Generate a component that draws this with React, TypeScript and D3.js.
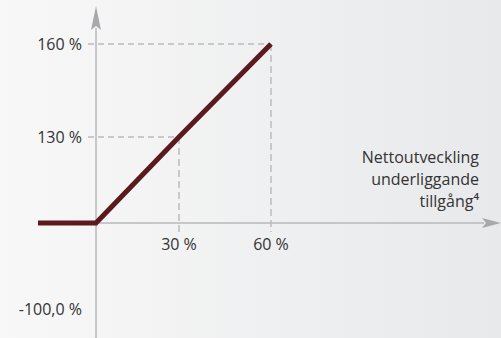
import React from "react";
import * as d3 from "d3";

const W = 501;
const H = 338;

// Payoff profile: underlying net development (%) -> payout (%)
const payoffX = [-20, 0, 30, 60];
const payoffY = [100, 100, 130, 160];

// Guide points (dashed)
const guideX = [30, 60];
const guideY = [130, 160];

// Tick labels
const xTickValues = [30, 60];
const xTickLabels = ["30 %", "60 %"];
const yTickValues = [-100, 130, 160];
const yTickLabels = ["-100,0 %", "130 %", "160 %"];

const axisTitle = ["Nettoutveckling", "underliggande", "tillgång⁴"];

export default function App() {
  // schematic (piecewise) scales
  const x = d3.scaleLinear().domain([-20, 0, 30, 60]).range([38, 96, 179, 271]);
  const y = d3.scaleLinear().domain([-100, 100, 130, 160]).range([309, 223, 137, 44]);

  const line = d3
    .line<number>()
    .x((_, i) => x(payoffX[i]))
    .y((d) => y(d));

  const axisX0 = x(0);
  const axisY0 = y(100);
  const font = "'Open Sans', sans-serif";
  const fs = 16;
  const textColor = "#333";
  const gridColor = "#c9c9cb";
  const axisColor = "#b8b8bb";
  const arrowColor = "#a8a9ad";

  return (
    <svg
      width={W}
      height={H}
      style={{ position: "absolute", left: 0, top: 0, display: "block" }}
    >
      <defs>
        <linearGradient id="bg" x1="0" x2="1" y1="0" y2="0">
          <stop offset="0" stopColor="#f8f8f8" />
          <stop offset="1" stopColor="#e8e9eb" />
        </linearGradient>
      </defs>
      <rect x={0} y={0} width={W} height={H} fill="url(#bg)" />

      {/* dashed guides */}
      {guideX.map((gx, i) => (
        <g key={i}>
          <line
            x1={axisX0 - 8}
            x2={x(gx)}
            y1={y(guideY[i])}
            y2={y(guideY[i])}
            stroke={gridColor}
            strokeWidth={2}
            strokeDasharray="6 4"
          />
          <line
            x1={x(gx)}
            x2={x(gx)}
            y1={y(guideY[i])}
            y2={axisY0 + 9}
            stroke={gridColor}
            strokeWidth={2}
            strokeDasharray="7 4"
          />
        </g>
      ))}

      {/* axes */}
      <line x1={axisX0} x2={axisX0} y1={28} y2={H} stroke={axisColor} strokeWidth={1.5} />
      <path
        d={`M${axisX0},6 L${axisX0 + 5},30 L${axisX0},26 L${axisX0 - 5},30 Z`}
        fill={arrowColor}
      />
      <line x1={axisX0} x2={484} y1={axisY0} y2={axisY0} stroke={axisColor} strokeWidth={1.5} />
      <path
        d={`M501,${axisY0} L482,${axisY0 - 5} L486,${axisY0} L482,${axisY0 + 5} Z`}
        fill={arrowColor}
      />

      {/* payoff line */}
      <path
        d={line(payoffY) || ""}
        fill="none"
        stroke="#5a1a1e"
        strokeWidth={5}
        strokeLinejoin="miter"
      />

      {/* y tick labels */}
      {yTickValues.map((v, i) => (
        <text
          key={i}
          x={axisX0 - 14}
          y={y(v)}
          dy="0.35em"
          textAnchor="end"
          fontFamily={font}
          fontSize={fs}
          fill={textColor}
        >
          {yTickLabels[i]}
        </text>
      ))}

      {/* x tick labels */}
      {xTickValues.map((v, i) => (
        <text
          key={i}
          x={x(v)}
          y={axisY0 + 27}
          textAnchor="middle"
          fontFamily={font}
          fontSize={fs}
          fill={textColor}
        >
          {xTickLabels[i]}
        </text>
      ))}

      {/* axis title */}
      {axisTitle.map((t, i) => (
        <text
          key={i}
          x={479}
          y={163 + i * 22}
          textAnchor="end"
          fontFamily={font}
          fontSize={fs}
          fill={textColor}
        >
          {t}
        </text>
      ))}
    </svg>
  );
}
